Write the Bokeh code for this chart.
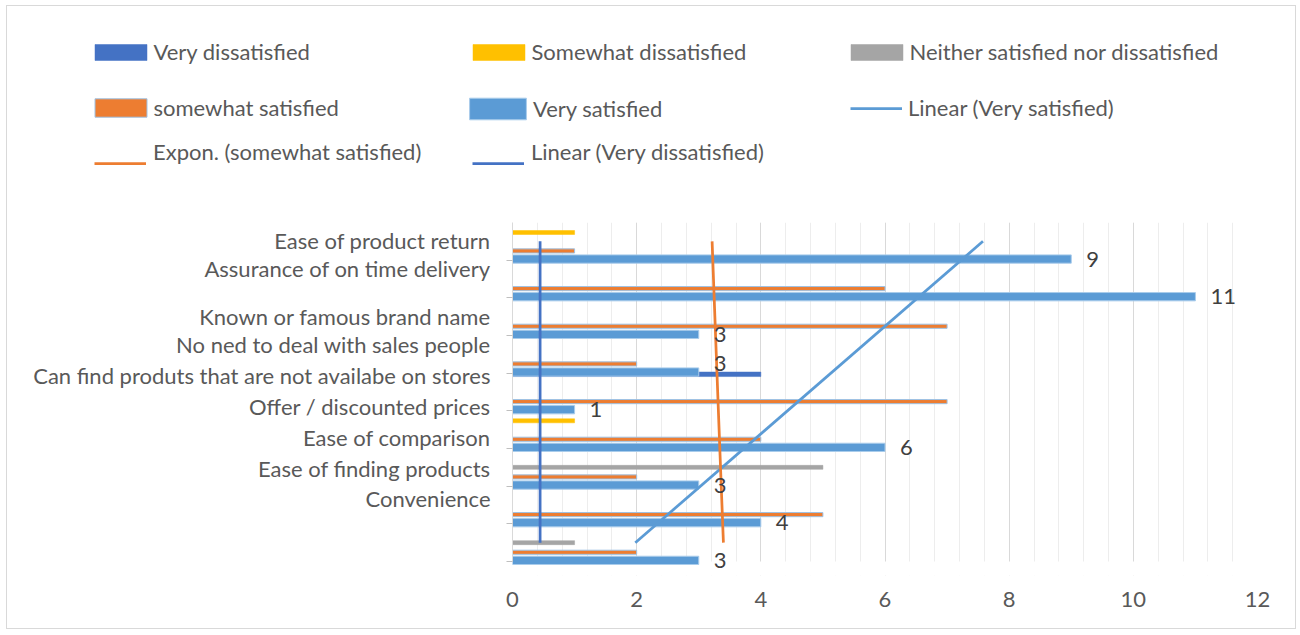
import numpy as np
from bokeh.plotting import figure
from bokeh.layouts import column
from bokeh.models import (Range1d, FixedTicker, SingleIntervalTicker, Legend, LegendItem,
                          ColumnDataSource, LabelSet, BoxAnnotation)
from bokeh.core.properties import value
from bokeh.embed import file_html
from bokeh.resources import INLINE

# ---------------- data ----------------
category_index = [1, 2, 3, 4, 5, 6, 7, 8, 9]          # bottom -> top
very_dissatisfied = [0, 0, 0, 0, 4, 0, 0, 0, 0]
somewhat_dissatisfied = [0, 0, 0, 1, 0, 0, 0, 0, 1]
neither = [1, 0, 5, 0, 0, 0, 0, 0, 0]
somewhat_satisfied = [2, 5, 2, 4, 7, 2, 7, 6, 1]
very_satisfied = [3, 4, 3, 6, 1, 3, 3, 11, 9]

category_names = ["Ease of product return", "Assurance of on time delivery",
                  "Known or famous brand name", "No ned to deal with sales people",
                  "Can find produts that are not availabe on stores",
                  "Offer / discounted prices", "Ease of comparison",
                  "Ease of finding products", "Convenience"]

# ---------------- layout / style ----------------
label_pos = [9.02, 8.28, 7.0, 6.26, 5.44, 4.61, 3.79, 2.97, 2.17]   # where the axis draws each name
FONT = "Lato"
FS = "22px"
TXT = "#595959"
W = 1300
LEG_H = 222                 # height of the legend strip (top of the chart)
MAIN_H = 635 - LEG_H
FRAME_LEFT = 512
PX_PER_CAT = 339 / 9.0
BOTTOM_BORDER = 60
Y_TOP = 9.5
Y_BOTTOM = Y_TOP - (MAIN_H - BOTTOM_BORDER) / PX_PER_CAT

STYLES = [
    ("Very dissatisfied", very_dissatisfied, "#4472C4", "#4472C4", 0.5, 0.47, 0.12),
    ("Somewhat dissatisfied", somewhat_dissatisfied, "#FFC000", "#FFC000", 0.5, 0.235, 0.106),
    ("Neither satisfied nor dissatisfied", neither, "#A5A5A5", "#A5A5A5", 0.5, 0.0, 0.106),
    ("somewhat satisfied", somewhat_satisfied, "#ED7D31", "#9DC3E6", 1, -0.255, 0.11),
    ("Very satisfied", very_satisfied, "#5B9BD5", "#A9CCEB", 1, -0.47, 0.22),
]
TREND_W = 2.75

# ================= main chart =================
p = figure(width=W, height=MAIN_H, output_backend="svg", toolbar_location=None,
           x_range=Range1d(0, 12), y_range=Range1d(Y_BOTTOM, Y_TOP),
           min_border_left=FRAME_LEFT, min_border_right=W - 1257,
           min_border_top=0, min_border_bottom=BOTTOM_BORDER)
p.outline_line_color = None
p.background_fill_color = "white"
p.border_fill_color = "white"

# x axis & grid
p.xaxis.ticker = SingleIntervalTicker(interval=2, num_minor_ticks=5)
p.xaxis.axis_line_color = None
p.xaxis.major_tick_line_color = None
p.xaxis.minor_tick_line_color = None
p.xaxis.major_label_standoff = 10
p.xaxis.major_label_text_font = FONT
p.xaxis.major_label_text_font_size = FS
p.xaxis.major_label_text_color = TXT
p.xgrid.grid_line_color = "#D9D9D9"
p.xgrid.minor_grid_line_color = "#EDEDED"
p.ygrid.grid_line_color = None
# the value grid stops at the lower edge of the first category band
p.add_layout(BoxAnnotation(top=category_index[0] - 0.5, fill_color="white", fill_alpha=1,
                           line_color=None, level="underlay"))

# y axis: names at label_pos, tick marks at category boundaries
boundaries = [c - 0.5 for c in category_index]
p.yaxis.ticker = FixedTicker(ticks=label_pos, minor_ticks=boundaries)
p.yaxis.bounds = (category_index[0] - 0.5, Y_TOP)
p.yaxis.major_label_overrides = {pos: name for pos, name in zip(label_pos, category_names)}
p.yaxis.major_tick_line_color = None
p.yaxis.major_tick_out = 0
p.yaxis.major_tick_in = 0
p.yaxis.minor_tick_out = 6
p.yaxis.minor_tick_in = 0
p.yaxis.minor_tick_line_color = "#BFBFBF"
p.yaxis.axis_line_color = "#D9D9D9"
p.yaxis.major_label_standoff = 16
p.yaxis.major_label_text_font = FONT
p.yaxis.major_label_text_font_size = FS
p.yaxis.major_label_text_color = TXT

# bars
for name, vals, color, lc, lw, off, h in STYLES:
    ys = [c + off for c, v in zip(category_index, vals) if v != 0]
    xs = [v for v in vals if v != 0]
    p.hbar(y=ys, right=xs, left=0, height=h, fill_color=color, line_color=lc, line_width=lw)

# data labels on "Very satisfied"
label_nudge = [0, 0, 0, 0, 0, 9, 0, 0, 0]
vs_src = ColumnDataSource(dict(x=very_satisfied, y=[c - 0.47 for c in category_index],
                               t=[str(v) for v in very_satisfied], dy=label_nudge))
p.add_layout(LabelSet(x="x", y="y", text="t", source=vs_src, x_offset=15, y_offset="dy",
                      text_font=value(FONT), text_font_size=value(FS), text_color="#404040",
                      text_baseline="middle", text_align="left"))

# trend lines (fitted from the series)
ci = np.array(category_index, dtype=float)
m_vs, b_vs = np.polyfit(ci, very_satisfied, 1)
p.line(m_vs * ci[[0, -1]] + b_vs, ci[[0, -1]], line_color="#5B9BD5", line_width=TREND_W)

m_ss, b_ss = np.polyfit(ci, np.log(somewhat_satisfied), 1)
cs = np.linspace(ci[0], ci[-1], 41)
p.line(np.exp(b_ss + m_ss * cs), cs, line_color="#ED7D31", line_width=TREND_W)

m_vd, b_vd = np.polyfit(ci, very_dissatisfied, 1)
p.line(m_vd * ci[[0, -1]] + b_vd, ci[[0, -1]], line_color="#4472C4", line_width=TREND_W)

# ================= legend strip =================
lg = figure(width=W, height=LEG_H, output_backend="svg", toolbar_location=None,
            x_range=Range1d(0, 1), y_range=Range1d(0, 1), x_axis_type=None, y_axis_type=None,
            min_border=0)
lg.outline_line_color = None
lg.xgrid.visible = False
lg.ygrid.visible = False

for fig in (lg, p):
    if "frame_align" in fig.properties():
        fig.frame_align = False

# stand-in renderers (kept outside the visible range) that carry the legend styles
rend = {}
for name, vals, color, lc, lw, off, h in STYLES:
    rend[name] = lg.hbar(y=[-5], right=[-4], left=-5, height=h, fill_color=color,
                         line_color=lc, line_width=lw)
rend["Linear (Very satisfied)"] = lg.line([-5, -4], [-5, -4], line_color="#5B9BD5",
                                          line_width=TREND_W)
rend["Expon. (somewhat satisfied)"] = lg.line([-5, -4], [-5, -4], line_color="#ED7D31",
                                              line_width=TREND_W)
rend["Linear (Very dissatisfied)"] = lg.line([-5, -4], [-5, -4], line_color="#4472C4",
                                             line_width=TREND_W)
blank = lg.line([-5, -4], [-5, -4], line_alpha=0)

COL_W = 378


def legend_row(items, gw, gh, lh, left, top, standoff):
    leg = Legend(items=items, orientation="horizontal",
                 location=(left, LEG_H - top - max(gh, lh)),
                 glyph_width=gw, glyph_height=gh, label_height=lh,
                 label_width=COL_W - gw - standoff, label_standoff=standoff,
                 spacing=0, padding=0, margin=0, border_line_color=None,
                 background_fill_alpha=0, label_text_font=FONT, label_text_font_size=FS,
                 label_text_color=TXT)
    lg.add_layout(leg, "center")


def items_for(names):
    return [LegendItem(label=n, renderers=[rend[n]]) for n in names]


legend_row(items_for(["Very dissatisfied", "Somewhat dissatisfied",
                      "Neither satisfied nor dissatisfied"]), 65, 20, 26, 87.5, 39, 1)
legend_row(items_for(["somewhat satisfied"]), 65, 23, 26, 87.5, 95, 1)
legend_row(items_for(["Very satisfied"]), 71, 27, 27, 462, 94.5, -3)
legend_row(items_for(["Linear (Very satisfied)"]), 52, 26, 26, 850, 95, 6)
# third row: the trend-line swatches sit below the text line, as in the original legend
row3 = ["Expon. (somewhat satisfied)", "Linear (Very dissatisfied)"]
legend_row([LegendItem(label=n, renderers=[blank]) for n in row3], 52, 26, 26, 94, 139, 7)
legend_row([LegendItem(label="", renderers=[rend[n]]) for n in row3], 52, 26, 26, 94, 150, 7)

page = column(lg, p, spacing=0)
page.stylesheets = [":host { position: relative; } "
                    ":host::after { content: ''; position: absolute; left: 6px; top: 5px; "
                    "width: 1288px; height: 622px; border: 1.5px solid #D9D9D9; "
                    "pointer-events: none; z-index: 10; }"]
open("out.html", "w").write(file_html(page, INLINE))
